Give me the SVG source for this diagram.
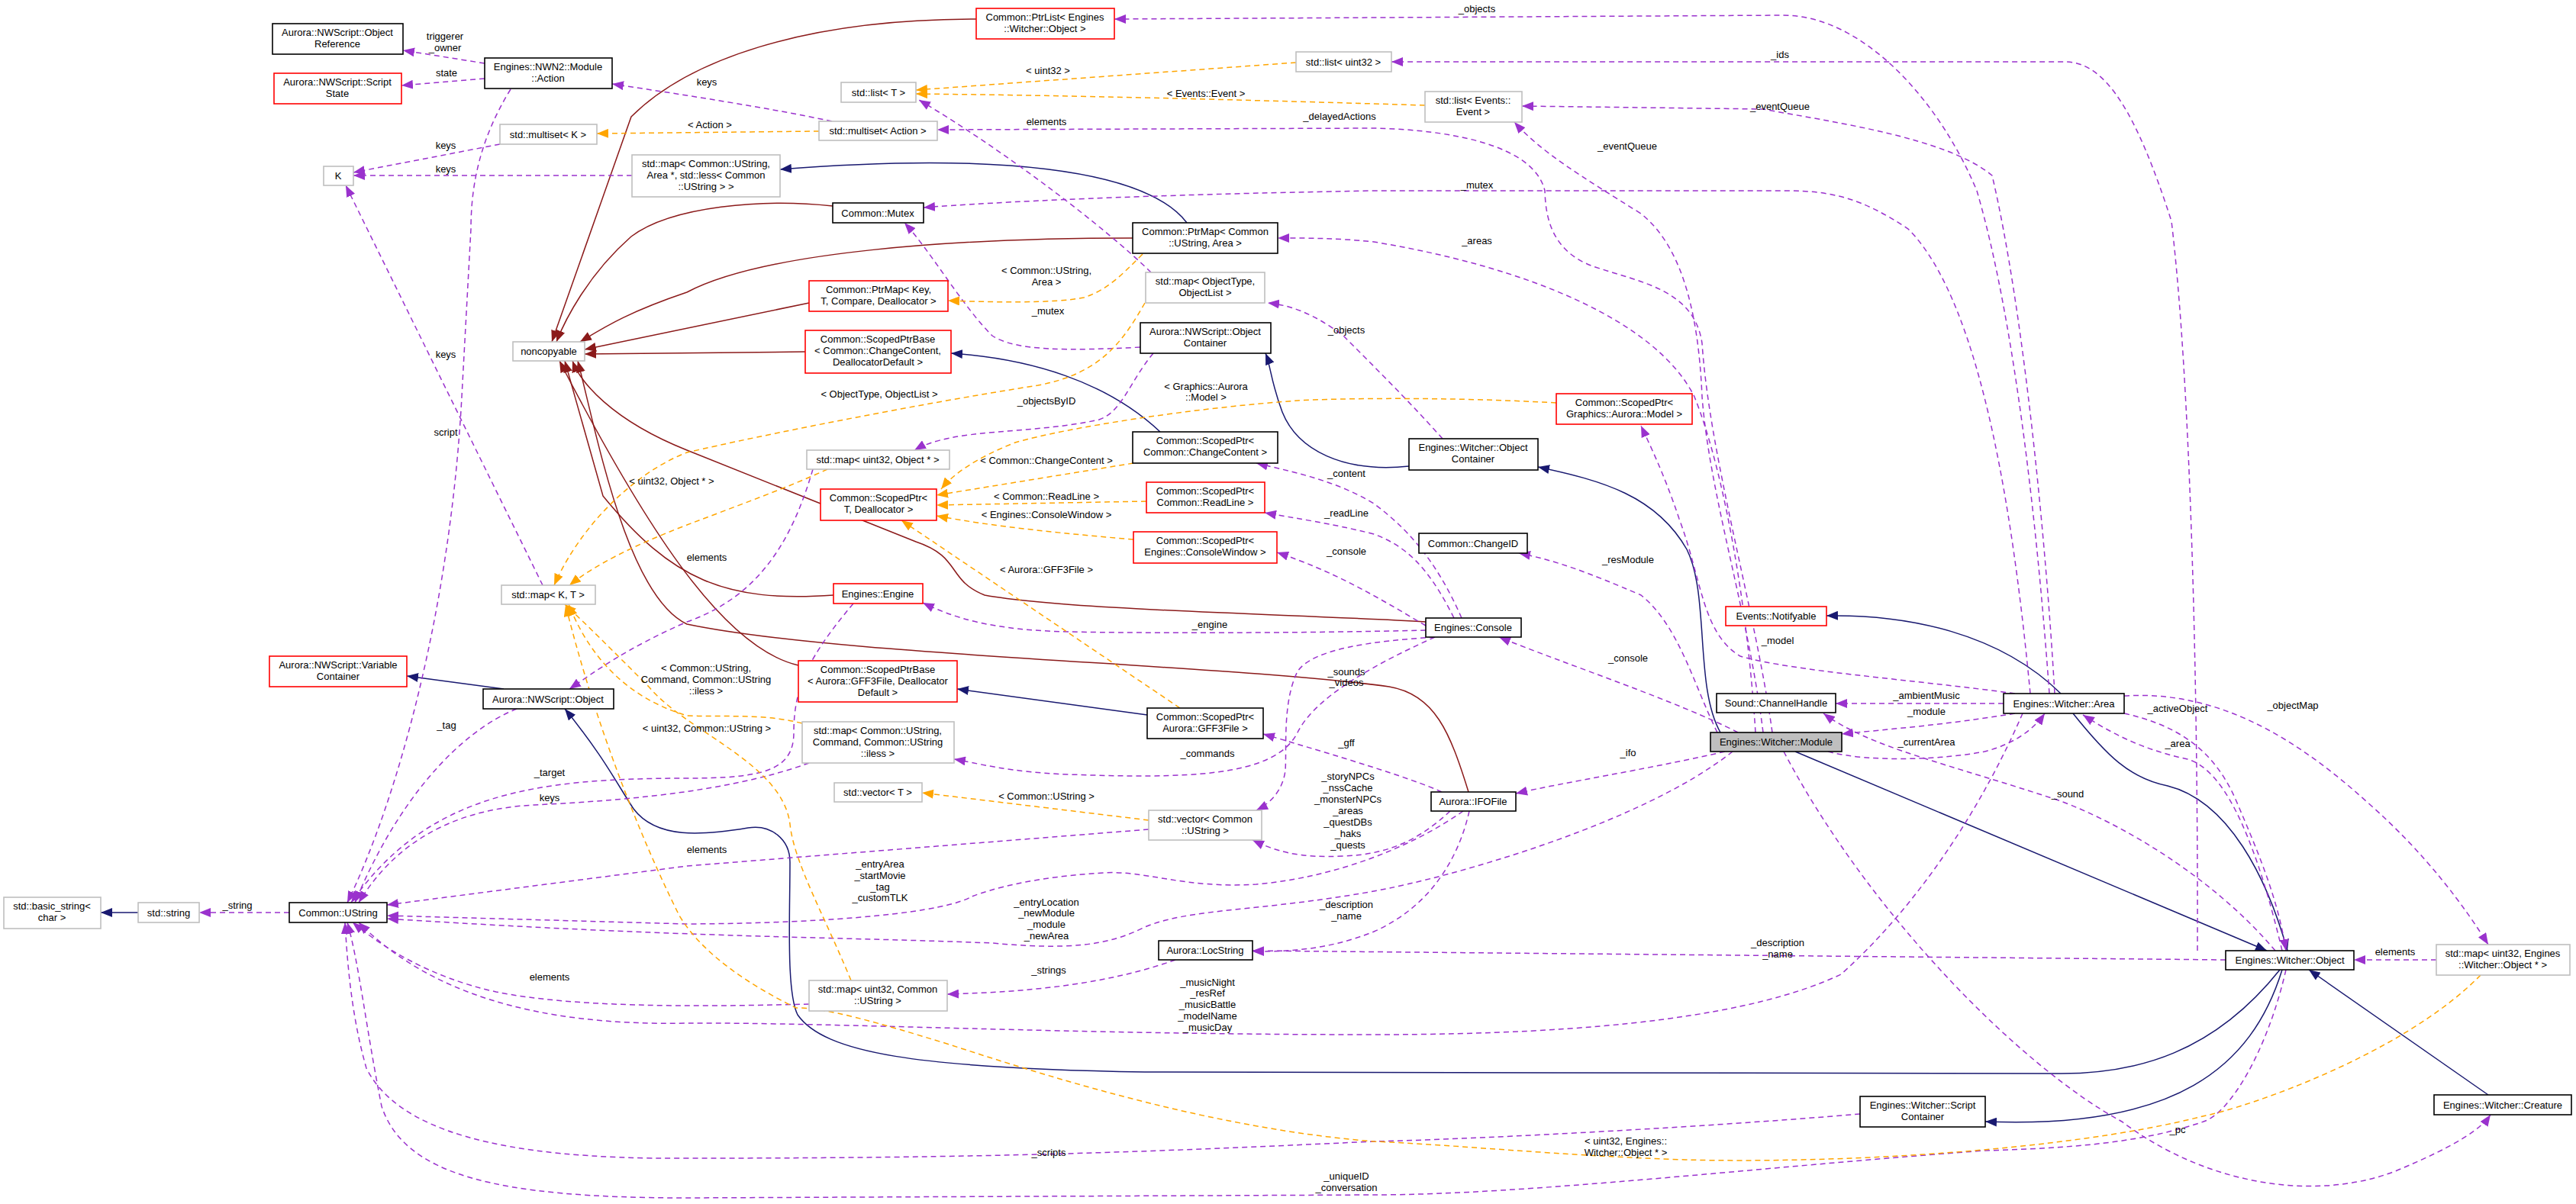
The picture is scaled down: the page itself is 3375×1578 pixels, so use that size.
<svg xmlns="http://www.w3.org/2000/svg" width="3375" height="1578" viewBox="0 0 3375 1578">
<style>
text{font-family:"Liberation Sans",Arial,sans-serif;font-size:13px;fill:#000;text-anchor:middle}
rect{fill:#fff;stroke:#000;stroke-width:1.6}
.g rect{stroke:#bfbfbf}
.r rect{stroke:#ff0000}
.m rect{fill:#bfbfbf}
path{fill:none;stroke-width:1.5}
.u{stroke:#9a32cd;stroke-dasharray:7,5;marker-end:url(#mu)}
.t{stroke:#ffa500;stroke-dasharray:7,5;marker-end:url(#mt)}
.i{stroke:#191970;marker-end:url(#mi)}
.p{stroke:#8b1a1a;marker-end:url(#mp)}
</style>
<defs>
<marker id="mu" markerUnits="userSpaceOnUse" markerWidth="16" markerHeight="12" refX="15" refY="6" orient="auto"><path d="M0,0L15,6L0,12z" style="fill:#9a32cd;stroke:none"/></marker>
<marker id="mt" markerUnits="userSpaceOnUse" markerWidth="16" markerHeight="12" refX="15" refY="6" orient="auto"><path d="M0,0L15,6L0,12z" style="fill:#ffa500;stroke:none"/></marker>
<marker id="mi" markerUnits="userSpaceOnUse" markerWidth="16" markerHeight="12" refX="15" refY="6" orient="auto"><path d="M0,0L15,6L0,12z" style="fill:#191970;stroke:none"/></marker>
<marker id="mp" markerUnits="userSpaceOnUse" markerWidth="16" markerHeight="12" refX="15" refY="6" orient="auto"><path d="M0,0L15,6L0,12z" style="fill:#8b1a1a;stroke:none"/></marker>
</defs>
<rect x="0" y="0" width="3375" height="1578" style="stroke:none"/>
<g id="edges">
<!-- inheritance -->
<path class="i" d="M181,1196L132,1196"/>
<path class="i" d="M660,903L533,886"/>
<path class="i" d="M1555,292C1500,220 1300,200 1022,222"/>
<path class="i" d="M1520,566C1450,500 1350,470 1246,463"/>
<path class="i" d="M1503,937L1254,903"/>
<path class="i" d="M1846,611C1760,620 1700,590 1680,540C1665,500 1665,480 1658,463"/>
<path class="i" d="M2254,960C2220,900 2240,780 2210,720C2170,650 2100,630 2015,612"/>
<path class="i" d="M2700,909C2620,830 2500,805 2393,807"/>
<path class="i" d="M2716,935C2760,990 2790,1020 2840,1030C2920,1050 2970,1150 2997,1246"/>
<path class="i" d="M2352,985L2970,1246"/>
<path class="i" d="M2987,1271C2900,1380 2800,1407 2700,1407L1500,1405C1200,1400 1080,1380 1045,1330C1030,1300 1035,1200 1035,1130C1035,1100 1010,1080 980,1085C920,1095 860,1100 830,1060C810,1030 790,990 740,929"/>
<path class="i" d="M2990,1271C2950,1400 2850,1480 2601,1470"/>
<path class="i" d="M3260,1435L3025,1271"/>
<!-- noncopyable -->
<path class="p" d="M1279,25C1050,25 900,80 827,153L723,448"/>
<path class="p" d="M1091,270C1000,260 880,270 827,310C770,360 740,420 729,448"/>
<path class="p" d="M1484,312C1250,312 1000,330 900,383C820,410 790,430 760,448"/>
<path class="p" d="M1060,397L766,458"/>
<path class="p" d="M1055,461L766,464"/>
<path class="p" d="M1092,780C950,790 880,760 790,650L740,473"/>
<path class="p" d="M1046,872C950,850 850,700 733,473"/>
<path class="p" d="M1868,815C1700,805 1400,800 1290,780C1240,760 1260,730 1200,710C1100,670 1000,630 900,590C800,550 760,500 750,473"/>
<path class="p" d="M1924,1038C1900,960 1880,910 1820,900C1600,870 1100,860 900,818C820,780 780,560 757,473"/>
<!-- usage -->
<path class="u" d="M635,83L528,66"/>
<path class="u" d="M635,103L526,112"/>
<path class="u" d="M669,117C630,180 617,240 617,300L605,520C590,800 520,1050 455,1183"/>
<path class="u" d="M655,189L463,226"/>
<path class="u" d="M828,230L463,230"/>
<path class="u" d="M711,767L453,243"/>
<path class="u" d="M1090,159C1000,140 900,125 802,110"/>
<path class="u" d="M2322,960C2300,800 2240,600 2230,450C2220,380 2150,370 2090,350C2030,330 2025,280 2024,250C2010,190 1900,170 1800,168L1228,170"/>
<path class="u" d="M677,929C600,960 520,1050 465,1183"/>
<path class="u" d="M1118,791C1060,860 1040,900 1040,960C1040,1010 1000,1020 900,1020C700,1020 560,1040 460,1183"/>
<path class="u" d="M1060,1000C950,1040 800,1050 700,1055C600,1060 520,1100 470,1183"/>
<path class="u" d="M1505,1087L900,1135L507,1186"/>
<path class="u" d="M1060,1316C900,1320 750,1320 650,1300C560,1280 500,1240 462,1209"/>
<path class="u" d="M1917,1063C1850,1110 1750,1150 1646,1159C1550,1165 1500,1140 1445,1144C1350,1150 1300,1165 1273,1175C1240,1195 1100,1210 900,1211L507,1200"/>
<path class="u" d="M2270,985C2150,1080 1900,1150 1800,1168C1650,1195 1560,1190 1500,1215C1450,1240 1400,1245 1300,1236C1100,1228 900,1229 507,1204"/>
<path class="u" d="M2650,935C2600,1050 2520,1180 2412,1277C2300,1330 2100,1356 1800,1356C1400,1356 1100,1340 900,1341C700,1345 560,1300 470,1209"/>
<path class="u" d="M2437,1460C2200,1480 1900,1494 1800,1496C1500,1510 1300,1518 900,1518C650,1520 520,1480 480,1400C460,1330 455,1260 452,1209"/>
<path class="u" d="M2995,1271C2970,1380 2920,1460 2887,1470C2800,1500 2700,1505 2600,1508C2300,1530 2000,1566 1800,1566L900,1570C650,1570 530,1540 500,1450C480,1350 470,1260 455,1209"/>
<path class="u" d="M2916,1258L1641,1246"/>
<path class="u" d="M1925,1063C1910,1130 1870,1190 1800,1221C1740,1245 1690,1247 1641,1247"/>
<path class="u" d="M1540,1258C1450,1290 1350,1300 1241,1303"/>
<path class="u" d="M1900,1063C1860,1100 1820,1120 1760,1122C1700,1125 1670,1115 1641,1101"/>
<path class="u" d="M1880,835C1800,840 1720,850 1700,880C1680,920 1686,980 1684,1010C1680,1040 1660,1055 1646,1062"/>
<path class="u" d="M1880,835C1780,880 1720,920 1700,960C1670,1020 1550,1020 1400,1015C1320,1012 1280,1000 1250,995"/>
<path class="u" d="M1868,826C1700,830 1500,830 1400,828C1300,826 1250,810 1209,790"/>
<path class="u" d="M1915,810C1880,730 1840,690 1800,660C1750,630 1700,620 1646,607"/>
<path class="u" d="M1905,810C1870,740 1840,715 1800,700C1740,685 1700,680 1657,672"/>
<path class="u" d="M1868,820C1800,780 1750,750 1673,724"/>
<path class="u" d="M1889,1038C1850,1020 1750,990 1655,962"/>
<path class="u" d="M2277,960C2200,920 2050,870 1964,835"/>
<path class="u" d="M2260,985C2150,1010 2050,1025 1986,1040"/>
<path class="u" d="M2250,960C2220,900 2200,820 2150,780C2080,750 2040,735 1990,725"/>
<path class="u" d="M2640,909C2500,890 2350,880 2280,860C2230,830 2230,760 2200,680C2180,620 2160,580 2150,558"/>
<path class="u" d="M2300,960C2290,800 2260,620 2220,520C2170,420 2000,350 1800,317C1750,312 1720,312 1674,312"/>
<path class="u" d="M2310,960C2290,800 2240,650 2230,520C2225,400 2200,320 2150,280C2070,230 2020,200 1984,160"/>
<path class="u" d="M2685,909C2670,700 2640,420 2590,250C2540,130 2440,20 2336,20L1460,25"/>
<path class="u" d="M2692,909C2680,700 2650,400 2610,230C2550,180 2400,160 2310,143L1994,139"/>
<path class="u" d="M2660,909C2640,700 2600,400 2500,300C2440,260 2400,250 2341,250L1800,250C1500,255 1300,265 1210,272"/>
<path class="u" d="M2879,1246C2880,900 2870,500 2845,290C2800,150 2760,83 2708,81L1823,81"/>
<path class="u" d="M1494,455C1400,460 1330,460 1300,440C1260,400 1220,330 1185,292"/>
<path class="u" d="M1511,463C1480,500 1470,540 1440,550C1350,570 1250,560 1198,590"/>
<path class="u" d="M1890,575C1850,530 1800,480 1760,440C1720,410 1690,400 1661,397"/>
<path class="u" d="M1508,357C1450,300 1320,200 1204,131"/>
<path class="u" d="M1065,615C1040,700 1000,780 900,815C820,850 780,880 746,903"/>
<path class="u" d="M2625,922L2405,922"/>
<path class="u" d="M2640,935C2550,950 2480,955 2413,962"/>
<path class="u" d="M2395,985C2450,1000 2550,995 2600,985C2640,975 2665,955 2679,935"/>
<path class="u" d="M2990,1246C2960,1120 2920,1010 2866,995C2820,985 2780,970 2729,937"/>
<path class="u" d="M2783,935C2850,950 2900,980 2930,1050C2960,1120 2985,1180 2995,1246"/>
<path class="u" d="M2783,912C2900,905 3000,960 3100,1050C3180,1120 3230,1190 3260,1238"/>
<path class="u" d="M3192,1258L3084,1258"/>
<path class="u" d="M2981,1246C2900,1150 2780,1080 2700,1050C2550,1000 2450,980 2389,935"/>
<path class="u" d="M2337,985C2450,1200 2650,1400 2780,1470C2900,1560 3050,1575 3150,1530C3220,1500 3250,1480 3263,1461"/>
<path class="u" d="M379,1196L261,1196"/>
<!-- template -->
<path class="t" d="M1698,82L1200,118"/>
<path class="t" d="M1867,138C1600,130 1400,125 1200,123"/>
<path class="t" d="M1073,172L782,175"/>
<path class="t" d="M1497,333C1470,360 1451,380 1420,390C1380,398 1300,396 1242,394"/>
<path class="t" d="M1500,397C1470,450 1440,490 1360,505C1200,530 1000,570 900,593C830,620 760,690 726,767"/>
<path class="t" d="M1084,615C1030,640 960,665 900,688C830,715 780,740 746,767"/>
<path class="t" d="M1051,948C1000,935 950,940 900,938C840,920 780,880 745,792"/>
<path class="t" d="M1115,1285C1080,1200 1040,1130 1035,1080C1025,1000 900,960 850,900C800,850 770,820 740,792"/>
<path class="t" d="M3250,1278C3150,1380 2950,1450 2886,1463C2700,1510 2400,1525 2208,1520C2050,1515 1900,1500 1800,1496C1600,1480 1400,1420 1244,1369C1150,1340 1080,1320 1043,1321C980,1290 920,1250 890,1200C840,1100 780,950 741,793"/>
<path class="t" d="M1485,607L1227,649"/>
<path class="t" d="M1502,657L1227,662"/>
<path class="t" d="M1485,707C1400,700 1300,690 1227,676"/>
<path class="t" d="M2039,528C1900,520 1750,522 1700,525C1560,535 1400,560 1330,580C1280,600 1250,620 1233,641"/>
<path class="t" d="M1546,928L1181,682"/>
<path class="t" d="M1505,1075L1208,1039"/>
</g>
<g id="labels">
<text x="583" y="52">triggerer</text><text x="583" y="67">_owner</text>
<text x="585" y="100">state</text>
<text x="584" y="571">script</text>
<text x="584" y="195">keys</text>
<text x="584" y="226">keys</text>
<text x="584" y="469">keys</text>
<text x="926" y="112">keys</text>
<text x="1755" y="157">_delayedActions</text>
<text x="585" y="955">_tag</text>
<text x="720" y="1017">_target</text>
<text x="720" y="1050">keys</text>
<text x="926" y="1118">elements</text>
<text x="720" y="1285">elements</text>
<text x="1153" y="1137">_entryArea</text><text x="1153" y="1152">_startMovie</text><text x="1153" y="1167">_tag</text><text x="1153" y="1181">_customTLK</text>
<text x="1371" y="1187">_entryLocation</text><text x="1371" y="1201">_newModule</text><text x="1371" y="1216">_module</text><text x="1371" y="1231">_newArea</text>
<text x="1582" y="1292">_musicNight</text><text x="1582" y="1306">_resRef</text><text x="1582" y="1321">_musicBattle</text><text x="1582" y="1336">_modelName</text><text x="1582" y="1351">_musicDay</text>
<text x="1374" y="1515">_scripts</text>
<text x="1764" y="1546">_uniqueID</text><text x="1764" y="1561">_conversation</text>
<text x="2329" y="1240">_description</text><text x="2329" y="1255">_name</text>
<text x="1764" y="1190">_description</text><text x="1764" y="1205">_name</text>
<text x="1374" y="1276">_strings</text>
<text x="1766" y="1022">_storyNPCs</text><text x="1766" y="1037">_nssCache</text><text x="1766" y="1052">_monsterNPCs</text><text x="1766" y="1067">_areas</text><text x="1766" y="1082">_questDBs</text><text x="1766" y="1097">_haks</text><text x="1766" y="1112">_quests</text>
<text x="1764" y="885">_sounds</text><text x="1764" y="899">_videos</text>
<text x="1582" y="992">_commands</text>
<text x="1585" y="823">_engine</text>
<text x="1764" y="625">_content</text>
<text x="1764" y="677">_readLine</text>
<text x="1764" y="727">_console</text>
<text x="1764" y="978">_gff</text>
<text x="2133" y="867">_console</text>
<text x="2133" y="991">_ifo</text>
<text x="2133" y="738">_resModule</text>
<text x="2329" y="844">_model</text>
<text x="1935" y="320">_areas</text>
<text x="2132" y="196">_eventQueue</text>
<text x="1935" y="16">_objects</text>
<text x="2332" y="144">_eventQueue</text>
<text x="1935" y="247">_mutex</text>
<text x="2332" y="76">_ids</text>
<text x="1373" y="412">_mutex</text>
<text x="1371" y="530">_objectsByID</text>
<text x="1764" y="437">_objects</text>
<text x="1371" y="164">elements</text>
<text x="926" y="735">elements</text>
<text x="2524" y="916">_ambientMusic</text>
<text x="2524" y="937">_module</text>
<text x="2524" y="977">_currentArea</text>
<text x="2853" y="979">_area</text>
<text x="2853" y="933">_activeObject</text>
<text x="3004" y="929">_objectMap</text>
<text x="3138" y="1252">elements</text>
<text x="2709" y="1045">_sound</text>
<text x="2853" y="1485">_pc</text>
<text x="311" y="1191">_string</text>
<text x="1373" y="97">&lt; uint32 &gt;</text>
<text x="1580" y="127">&lt; Events::Event &gt;</text>
<text x="930" y="168">&lt; Action &gt;</text>
<text x="1371" y="359">&lt; Common::UString,</text><text x="1371" y="374">Area &gt;</text>
<text x="1152" y="521">&lt; ObjectType, ObjectList &gt;</text>
<text x="880" y="635">&lt; uint32, Object * &gt;</text>
<text x="925" y="880">&lt; Common::UString,</text><text x="925" y="895">Command, Common::UString</text><text x="925" y="910">::iless &gt;</text>
<text x="926" y="959">&lt; uint32, Common::UString &gt;</text>
<text x="2130" y="1500">&lt; uint32, Engines::</text><text x="2130" y="1515">Witcher::Object * &gt;</text>
<text x="1371" y="608">&lt; Common::ChangeContent &gt;</text>
<text x="1371" y="655">&lt; Common::ReadLine &gt;</text>
<text x="1371" y="679">&lt; Engines::ConsoleWindow &gt;</text>
<text x="1580" y="511">&lt; Graphics::Aurora</text><text x="1580" y="525">::Model &gt;</text>
<text x="1371" y="751">&lt; Aurora::GFF3File &gt;</text>
<text x="1371" y="1048">&lt; Common::UString &gt;</text>
</g>
<g id="n1"><rect x="357" y="31" width="171" height="40"/><text x="442" y="47">Aurora::NWScript::Object</text><text x="442" y="62">Reference</text></g>
<g id="n2" class="r"><rect x="359" y="96" width="167" height="40"/><text x="442" y="112">Aurora::NWScript::Script</text><text x="442" y="127">State</text></g>
<g id="n3"><rect x="635" y="76" width="167" height="40"/><text x="718" y="92">Engines::NWN2::Module</text><text x="718" y="107">::Action</text></g>
<g id="n4" class="g"><rect x="655" y="163" width="127" height="26"/><text x="718" y="181">std::multiset&lt; K &gt;</text></g>
<g id="n5" class="g"><rect x="424" y="218" width="39" height="25"/><text x="443" y="235">K</text></g>
<g id="n6" class="g"><rect x="828" y="203" width="194" height="55"/><text x="925" y="219">std::map&lt; Common::UString,</text><text x="925" y="234">Area *, std::less&lt; Common</text><text x="925" y="249">::UString &gt; &gt;</text></g>
<g id="n7" class="g"><rect x="672" y="448" width="94" height="25"/><text x="719" y="465">noncopyable</text></g>
<g id="n8" class="g"><rect x="657" y="767" width="123" height="25"/><text x="718" y="784">std::map&lt; K, T &gt;</text></g>
<g id="n9" class="r"><rect x="353" y="860" width="180" height="40"/><text x="443" y="876">Aurora::NWScript::Variable</text><text x="443" y="891">Container</text></g>
<g id="n10"><rect x="633" y="903" width="171" height="26"/><text x="718" y="921">Aurora::NWScript::Object</text></g>
<g id="n11" class="g"><rect x="5" y="1176" width="127" height="41"/><text x="68" y="1192">std::basic_string&lt;</text><text x="68" y="1207">char &gt;</text></g>
<g id="n12" class="g"><rect x="181" y="1183" width="80" height="26"/><text x="221" y="1201">std::string</text></g>
<g id="n13"><rect x="379" y="1183" width="128" height="26"/><text x="443" y="1201">Common::UString</text></g>
<g id="n14" class="r"><rect x="1279" y="11" width="181" height="40"/><text x="1369" y="27">Common::PtrList&lt; Engines</text><text x="1369" y="42">::Witcher::Object &gt;</text></g>
<g id="n15" class="g"><rect x="1698" y="68" width="125" height="26"/><text x="1760" y="86">std::list&lt; uint32 &gt;</text></g>
<g id="n16" class="g"><rect x="1102" y="108" width="98" height="26"/><text x="1151" y="126">std::list&lt; T &gt;</text></g>
<g id="n17" class="g"><rect x="1073" y="159" width="155" height="25"/><text x="1150" y="176">std::multiset&lt; Action &gt;</text></g>
<g id="n18"><rect x="1091" y="266" width="119" height="26"/><text x="1150" y="284">Common::Mutex</text></g>
<g id="n19"><rect x="1484" y="292" width="190" height="40"/><text x="1579" y="308">Common::PtrMap&lt; Common</text><text x="1579" y="323">::UString, Area &gt;</text></g>
<g id="n20" class="r"><rect x="1060" y="368" width="182" height="40"/><text x="1151" y="384">Common::PtrMap&lt; Key,</text><text x="1151" y="399">T, Compare, Deallocator &gt;</text></g>
<g id="n21" class="g"><rect x="1501" y="357" width="156" height="40"/><text x="1579" y="373">std::map&lt; ObjectType,</text><text x="1579" y="388">ObjectList &gt;</text></g>
<g id="n22" class="r"><rect x="1055" y="433" width="191" height="56"/><text x="1150" y="449">Common::ScopedPtrBase</text><text x="1150" y="464">&lt; Common::ChangeContent,</text><text x="1150" y="479">DeallocatorDefault &gt;</text></g>
<g id="n23"><rect x="1494" y="423" width="171" height="40"/><text x="1579" y="439">Aurora::NWScript::Object</text><text x="1579" y="454">Container</text></g>
<g id="n24" class="g"><rect x="1867" y="120" width="127" height="40"/><text x="1930" y="136">std::list&lt; Events::</text><text x="1930" y="151">Event &gt;</text></g>
<g id="n25" class="g"><rect x="1057" y="590" width="187" height="25"/><text x="1150" y="607">std::map&lt; uint32, Object * &gt;</text></g>
<g id="n26" class="r"><rect x="1075" y="641" width="152" height="41"/><text x="1151" y="657">Common::ScopedPtr&lt;</text><text x="1151" y="672">T, Deallocator &gt;</text></g>
<g id="n27"><rect x="1484" y="566" width="190" height="41"/><text x="1579" y="582">Common::ScopedPtr&lt;</text><text x="1579" y="597">Common::ChangeContent &gt;</text></g>
<g id="n28" class="r"><rect x="1502" y="632" width="155" height="40"/><text x="1579" y="648">Common::ScopedPtr&lt;</text><text x="1579" y="663">Common::ReadLine &gt;</text></g>
<g id="n29" class="r"><rect x="1485" y="697" width="188" height="41"/><text x="1579" y="713">Common::ScopedPtr&lt;</text><text x="1579" y="728">Engines::ConsoleWindow &gt;</text></g>
<g id="n30" class="r"><rect x="1092" y="765" width="117" height="26"/><text x="1150" y="783">Engines::Engine</text></g>
<g id="n31" class="r"><rect x="1046" y="866" width="208" height="54"/><text x="1150" y="882">Common::ScopedPtrBase</text><text x="1150" y="897">&lt; Aurora::GFF3File, Deallocator</text><text x="1150" y="912">Default &gt;</text></g>
<g id="n32"><rect x="1503" y="928" width="152" height="40"/><text x="1579" y="944">Common::ScopedPtr&lt;</text><text x="1579" y="959">Aurora::GFF3File &gt;</text></g>
<g id="n33" class="g"><rect x="1051" y="946" width="199" height="54"/><text x="1150" y="962">std::map&lt; Common::UString,</text><text x="1150" y="977">Command, Common::UString</text><text x="1150" y="992">::iless &gt;</text></g>
<g id="n34" class="g"><rect x="1093" y="1026" width="115" height="25"/><text x="1150" y="1043">std::vector&lt; T &gt;</text></g>
<g id="n35" class="g"><rect x="1505" y="1062" width="148" height="39"/><text x="1579" y="1078">std::vector&lt; Common</text><text x="1579" y="1093">::UString &gt;</text></g>
<g id="n36"><rect x="1518" y="1233" width="123" height="25"/><text x="1579" y="1250">Aurora::LocString</text></g>
<g id="n37" class="g"><rect x="1060" y="1285" width="181" height="40"/><text x="1150" y="1301">std::map&lt; uint32, Common</text><text x="1150" y="1316">::UString &gt;</text></g>
<g id="n38" class="r"><rect x="2039" y="516" width="178" height="40"/><text x="2128" y="532">Common::ScopedPtr&lt;</text><text x="2128" y="547">Graphics::Aurora::Model &gt;</text></g>
<g id="n39"><rect x="1846" y="575" width="169" height="41"/><text x="1930" y="591">Engines::Witcher::Object</text><text x="1930" y="606">Container</text></g>
<g id="n40"><rect x="1859" y="699" width="142" height="26"/><text x="1930" y="717">Common::ChangeID</text></g>
<g id="n41"><rect x="1868" y="810" width="125" height="25"/><text x="1930" y="827">Engines::Console</text></g>
<g id="n42" class="r"><rect x="2261" y="795" width="132" height="25"/><text x="2327" y="812">Events::Notifyable</text></g>
<g id="n43"><rect x="2249" y="909" width="156" height="25"/><text x="2327" y="926">Sound::ChannelHandle</text></g>
<g id="n44" class="m"><rect x="2241" y="960" width="172" height="25"/><text x="2327" y="977">Engines::Witcher::Module</text></g>
<g id="n45"><rect x="1875" y="1038" width="111" height="25"/><text x="1930" y="1055">Aurora::IFOFile</text></g>
<g id="n46"><rect x="2625" y="909" width="158" height="26"/><text x="2704" y="927">Engines::Witcher::Area</text></g>
<g id="n47"><rect x="2916" y="1246" width="168" height="25"/><text x="3000" y="1263">Engines::Witcher::Object</text></g>
<g id="n48" class="g"><rect x="3192" y="1238" width="175" height="40"/><text x="3279" y="1254">std::map&lt; uint32, Engines</text><text x="3279" y="1269">::Witcher::Object * &gt;</text></g>
<g id="n49"><rect x="2437" y="1437" width="164" height="40"/><text x="2519" y="1453">Engines::Witcher::Script</text><text x="2519" y="1468">Container</text></g>
<g id="n50"><rect x="3189" y="1435" width="180" height="26"/><text x="3279" y="1453">Engines::Witcher::Creature</text></g>
</svg>
